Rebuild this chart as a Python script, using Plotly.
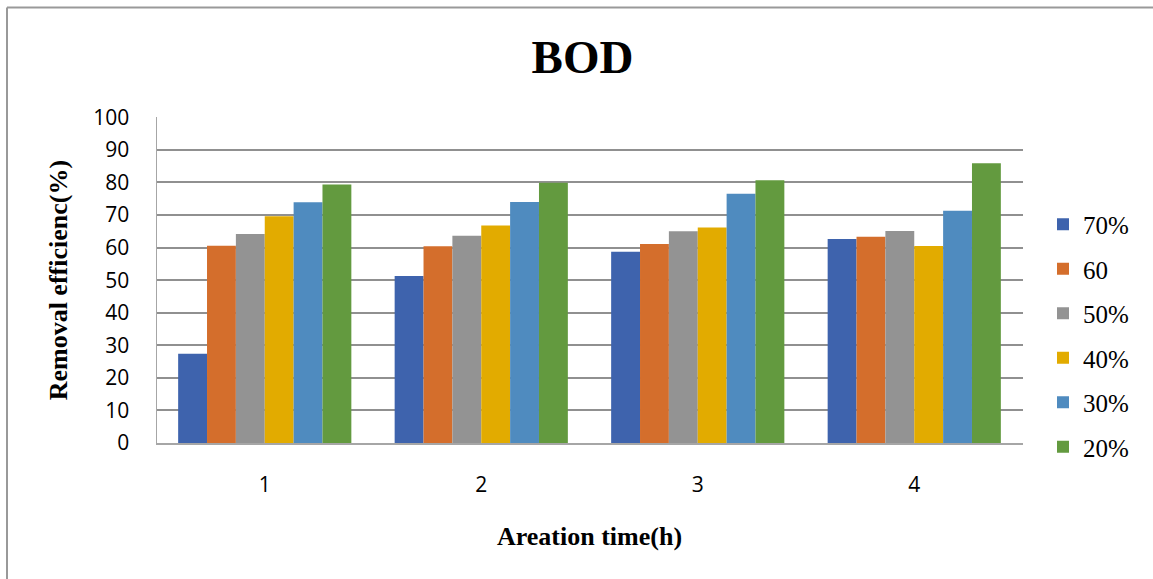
import plotly.graph_objects as go

# Aeration time (h) on the x axis
aeration_time = ["1", "2", "3", "4"]

# BOD removal efficiency (%) for each ratio series
series_names = ["70%", "60", "50%", "40%", "30%", "20%"]
eff_70 = [27.4, 51.3, 58.7, 62.6]
eff_60 = [60.6, 60.4, 61.1, 63.3]
eff_50 = [64.2, 63.6, 65.0, 65.1]
eff_40 = [69.6, 66.8, 66.2, 60.5]
eff_30 = [73.9, 74.0, 76.5, 71.3]
eff_20 = [79.4, 79.9, 80.7, 85.9]
series_values = [eff_70, eff_60, eff_50, eff_40, eff_30, eff_20]

y_ticks = [0, 10, 20, 30, 40, 50, 60, 70, 80, 90, 100]

colors = ["#3E63AD", "#D46E2C", "#939393", "#E2AB00", "#4F8BBF", "#639A3F"]

W, H = 1153, 579

fig = go.Figure()
for i, (name, vals) in enumerate(zip(series_names, series_values)):
    fig.add_trace(go.Bar(
        x=aeration_time, y=vals, name=name,
        marker=dict(color=colors[i], line=dict(width=0)),
        legendgroup=f"g{i}",
    ))

serif = "Liberation Serif, Times New Roman, serif"
sans = "Open Sans, Noto Sans, sans-serif"

fig.update_layout(
    width=W, height=H,
    margin=dict(l=0, r=0, t=0, b=0, autoexpand=False),
    paper_bgcolor="white", plot_bgcolor="white",
    barmode="group", bargap=0.2, bargroupgap=0,
    title=dict(text="<b>BOD</b>", x=582.5 / W, xanchor="center",
               y=1 - 57 / H, yanchor="middle",
               font=dict(family=serif, size=47, color="black")),
    xaxis=dict(
        domain=[156.5 / W, 1022.5 / W], automargin=False,
        showgrid=False, showline=True, linecolor="#a6a6a6", linewidth=1.5,
        ticks="", tickfont=dict(family=sans, size=21, color="black"),
        ticklabelstandoff=22,
        title=dict(text="<b>Areation time(h)</b>", standoff=30,
                   font=dict(family=serif, size=26, color="black")),
    ),
    yaxis=dict(
        domain=[136 / H, 461.7 / H], automargin=False,
        range=[0, 100], tickvals=y_ticks,
        showgrid=True, gridcolor="#909090", gridwidth=1.5,
        showline=True, linecolor="#a6a6a6", linewidth=1.2,
        zeroline=False, ticks="",
        tickfont=dict(family=sans, size=21, color="black"),
        ticklabelstandoff=22,
        title=dict(text="<b>Removal efficienc(%)</b>", standoff=18,
                   font=dict(family=serif, size=26, color="black")),
    ),
    legend=dict(
        x=1043 / W, xanchor="left", y=1 - 201.5 / H, yanchor="top",
        font=dict(family=serif, size=25, color="black"),
        tracegroupgap=9, bgcolor="rgba(0,0,0,0)",
    ),
    showlegend=True,
    shapes=[
        # chart frame: left and top edges
        dict(type="line", xref="paper", yref="paper",
             x0=7 / W, x1=7 / W, y0=0, y1=1 - 7.5 / H,
             line=dict(color="#999999", width=2)),
        dict(type="line", xref="paper", yref="paper",
             x0=7 / W, x1=1, y0=1 - 7.5 / H, y1=1 - 7.5 / H,
             line=dict(color="#999999", width=2)),
    ],
)

fig.write_html("out.html")
